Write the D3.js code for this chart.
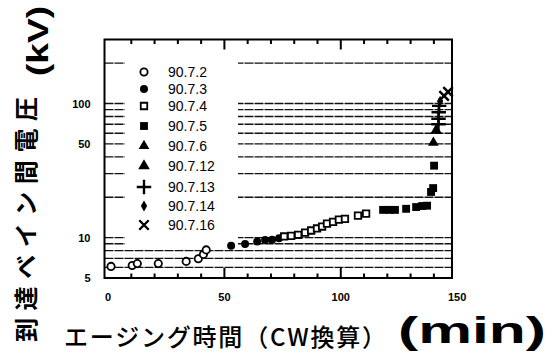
<!DOCTYPE html>
<html>
<head>
<meta charset="utf-8">
<script src="https://cdn.jsdelivr.net/npm/d3@7"></script>
<style>
body{margin:0;background:#fff;}
svg{display:block;}
.tick text{font-family:"Liberation Sans",Arial,sans-serif;font-weight:bold;font-size:11px;fill:#000;}
.legend text{font-family:"Liberation Sans",Arial,sans-serif;font-size:14px;fill:#000;}
</style>
</head>
<body>
<svg id="graph"></svg>
<script>
// one array of [minutes, kV] per test date
var s0702=[[1.5,6.1],[10.6,6.2],[12.8,6.4],[21.8,6.4],[33.8,6.65],[39,6.95],[41.2,7.5],[42.4,8.1]]
var s0703=[[53.1,8.7],[59.1,8.95],[64.3,9.35],[67.7,9.6],[70.7,9.65],[73.7,9.9]]
var s0704=[[75.9,10.2],[78.9,10.3],[81.9,10.5],[84.9,10.9],[87.5,11.3],[90,11.7],[92.2,12.1],[94.3,12.7],[96.9,13.1],[99.4,13.6],[102,13.8],[107.6,14.6],[111.1,15.1]]
var s0705=[[118.4,16.1],[121,16.1],[123.5,16.1],[128.3,16.4],[132.6,16.9],[135.2,17.2],[137.3,17.3],[139,21.9],[139.9,23.4],[140.3,34.4]]
var s0706=[[140,51]]
var s0712=[[141.2,63]]
var s0713=[[142.2,70],[142.2,77],[142.3,86],[142.5,96]]
var s0714=[[142.9,104]]
var s0716=[[144.6,114],[146.3,122]]

var seriesNames=["90.7.2","90.7.3","90.7.4","90.7.5","90.7.6","90.7.12","90.7.13","90.7.14","90.7.16"]
var seriesData=[s0702,s0703,s0704,s0705,s0706,s0712,s0713,s0714,s0716]

var xTickLabels=[0,50,100,150]
var yTickLabels=[5,10,50,100]
var gridValues=[6,7,8,9,10,20,30,40,50,60,70,80,90,100,200]

var symTimes=d3.symbolTimes||{draw:function(c,size){var r=Math.sqrt(size)*0.45;c.moveTo(-r,-r);c.lineTo(r,r);c.moveTo(r,-r);c.lineTo(-r,r);}}
var symPlus=d3.symbolPlus||{draw:function(c,size){var r=Math.sqrt(size)*0.6;c.moveTo(-r,0);c.lineTo(r,0);c.moveTo(0,-r);c.lineTo(0,r);}}

// marker style per series, same order as seriesNames
var markers=[
    {type:d3.symbolCircle,size:42,fill:"#fff",stroke:1.8},
    {type:d3.symbolCircle,size:50,fill:"#000",stroke:0},
    {type:d3.symbolSquare,size:42,fill:"#fff",stroke:1.8},
    {type:d3.symbolSquare,size:62,fill:"#000",stroke:0},
    {type:d3.symbolTriangle,size:50,fill:"#000",stroke:0},
    {type:d3.symbolTriangle,size:58,fill:"#000",stroke:0},
    {type:symPlus,size:70,fill:"none",stroke:2.4},
    {type:d3.symbolDiamond,size:34,fill:"#000",stroke:0},
    {type:symTimes,size:60,fill:"none",stroke:2.4}
]

var initGraph=function()
    {
        var screen={width:557,height:359}
        var plot={left:104.5,right:452,top:39.5,bottom:278}

        var svg=d3.select("#graph")
            .attr("width",screen.width)
            .attr("height",screen.height)

        var xScale=d3.scaleLinear()
            .domain([-1.3,148])
            .range([plot.left,plot.right])
        var yScale=d3.scaleLog()
            .domain([5,300])
            .range([plot.bottom,plot.top])

        drawGrid(svg,plot,yScale)
        drawLegend(svg)
        drawPoints(svg,xScale,yScale)
        drawAxes(svg,plot,xScale,yScale)
        drawLabels(svg)
    }

var drawGrid=function(svg,plot,yScale)
    {
        svg.append("g")
            .selectAll("line")
            .data(gridValues)
            .enter()
            .append("line")
            .attr("x1",plot.left)
            .attr("x2",plot.right)
            .attr("y1",function(d){return yScale(d)})
            .attr("y2",function(d){return yScale(d)})
            .attr("stroke","#111")
            .attr("stroke-width",1.3)
            .attr("stroke-dasharray","9,1")
    }

var markerPath=function(m)
    {
        return d3.symbol().type(m.type).size(m.size)()
    }

var drawLegend=function(svg)
    {
        var rowY=[72,89,106,126,146,166,187,206,225]
        var legend=svg.append("g").classed("legend",true)
        legend.append("rect")
            .attr("x",125).attr("y",50)
            .attr("width",113).attr("height",197)
            .attr("fill","#fff")
        var rows=legend.selectAll("g.row")
            .data(seriesNames)
            .enter()
            .append("g")
            .attr("class","row")
            .attr("transform",function(d,i){return "translate(144,"+rowY[i]+")"})
        rows.append("path")
            .attr("d",function(d,i){return markerPath(markers[i])})
            .attr("fill",function(d,i){return markers[i].fill})
            .attr("stroke","#000")
            .attr("stroke-width",function(d,i){return markers[i].stroke})
        rows.append("text")
            .attr("x",24)
            .attr("dy","0.36em")
            .text(function(d){return d})
    }

var drawPoints=function(svg,xScale,yScale)
    {
        seriesData.forEach(function(pts,i)
            {
                var m=markers[i]
                svg.append("g")
                    .selectAll("path")
                    .data(pts)
                    .enter()
                    .append("path")
                    .attr("transform",function(d){return "translate("+xScale(d[0])+","+yScale(d[1])+")"})
                    .attr("d",markerPath(m))
                    .attr("fill",m.fill)
                    .attr("stroke","#000")
                    .attr("stroke-width",m.stroke)
            })
    }

var drawAxes=function(svg,plot,xScale,yScale)
    {
        var minor=d3.range(10,150,10)
        var tickLen=function(d){return d%50==0?10:4.5}

        var bottom=svg.append("g")
            .attr("transform","translate(0,"+plot.bottom+")")
            .call(d3.axisBottom(xScale).tickValues(minor).tickSize(0).tickFormat(""))
        bottom.select(".domain").remove()
        bottom.selectAll(".tick line")
            .attr("y2",function(d){return -tickLen(d)})
            .attr("stroke","#000").attr("stroke-width",2)

        var top=svg.append("g")
            .attr("transform","translate(0,"+plot.top+")")
            .call(d3.axisTop(xScale).tickValues(minor).tickSize(0).tickFormat(""))
        top.select(".domain").remove()
        top.selectAll(".tick line")
            .attr("y2",function(d){return tickLen(d)})
            .attr("stroke","#000").attr("stroke-width",2)

        var xLab=svg.append("g")
            .attr("transform","translate(0,"+plot.bottom+")")
            .call(d3.axisBottom(xScale).tickValues(xTickLabels).tickSize(0).tickPadding(15).tickFormat(d3.format("d")))
        xLab.select(".domain").remove()

        var yLab=svg.append("g")
            .attr("transform","translate("+plot.left+",0)")
            .call(d3.axisLeft(yScale).tickValues(yTickLabels).tickSize(0).tickPadding(14).tickFormat(d3.format("d")))
        yLab.select(".domain").remove()

        svg.append("rect")
            .attr("x",plot.left).attr("y",plot.top)
            .attr("width",plot.right-plot.left)
            .attr("height",plot.bottom-plot.top)
            .attr("fill","none")
            .attr("stroke","#000")
            .attr("stroke-width",2)
    }

var drawLabels=function(svg)
    {
        var labels=svg.append("g")
        labels.append("text")
            .text("到達ベイン間電圧")
            .attr("transform","translate(35,342) rotate(-90)")
            .attr("textLength",245)
            .attr("lengthAdjust","spacing")
            .style("font-family","'Noto Sans CJK JP'")
            .style("font-weight","bold")
            .style("font-size","24px")
        labels.append("text")
            .text("(kV)")
            .attr("transform","translate(48,76) rotate(-90)")
            .attr("textLength",70)
            .attr("lengthAdjust","spacingAndGlyphs")
            .style("font-family","'Liberation Sans',Arial,sans-serif")
            .style("font-weight","bold")
            .style("font-size","30px")
        labels.append("text")
            .text("エージング時間（CW換算）")
            .attr("x",64).attr("y",346)
            .attr("textLength",322)
            .attr("lengthAdjust","spacing")
            .style("font-family","'Noto Sans CJK JP'")
            .style("font-weight","500")
            .style("font-size","24px")
        labels.append("text")
            .text("(min)")
            .attr("x",398).attr("y",343)
            .attr("textLength",148)
            .attr("lengthAdjust","spacingAndGlyphs")
            .style("font-family","'Liberation Sans',Arial,sans-serif")
            .style("font-weight","bold")
            .style("font-size","36px")
    }

initGraph()
</script>
</body>
</html>
